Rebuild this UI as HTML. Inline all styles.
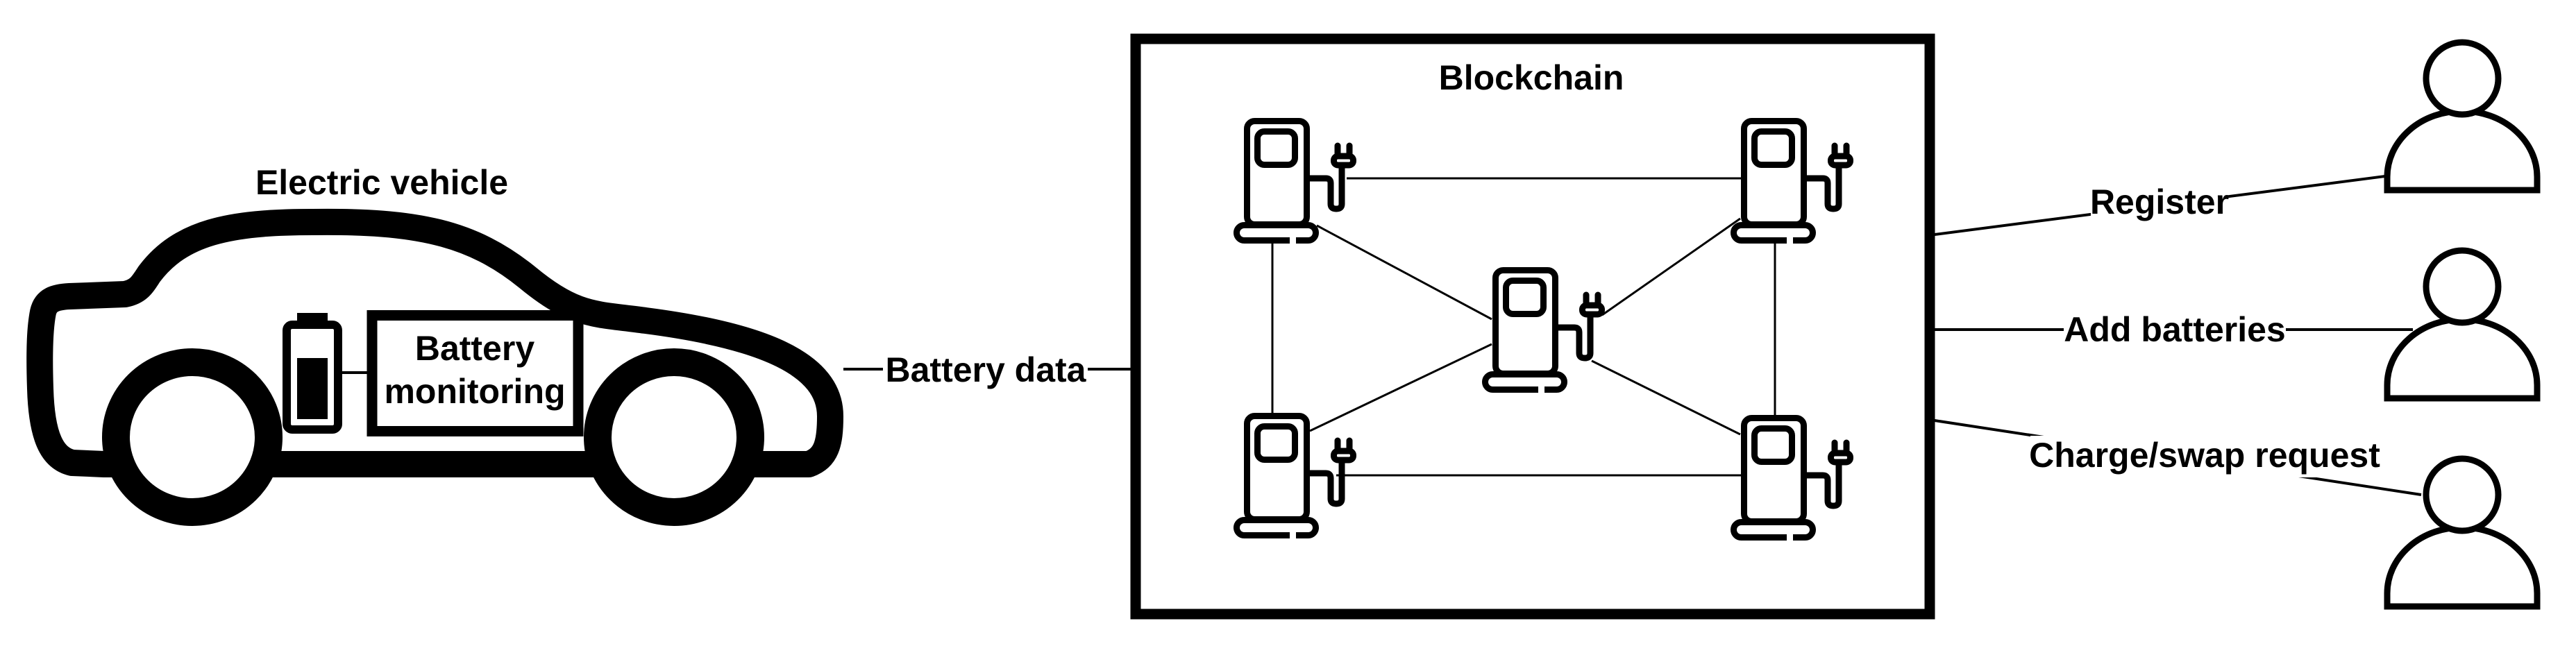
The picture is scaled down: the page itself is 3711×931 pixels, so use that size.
<!DOCTYPE html>
<html><head><meta charset="utf-8"><style>
html,body{margin:0;padding:0;background:#fff;}
svg{display:block;}
text{font-family:"Liberation Sans",sans-serif;font-weight:bold;font-size:50px;fill:#000;}
</style></head><body>
<svg width="3711" height="931" viewBox="0 0 3711 931" xmlns="http://www.w3.org/2000/svg">
<defs>
<g id="ch" fill="none" stroke="#000" stroke-width="9" stroke-linecap="round" stroke-linejoin="round">
  <rect x="4.5" y="4.5" width="86" height="149" rx="11" fill="#fff"/>
  <rect x="19.5" y="19.5" width="54" height="48" rx="10"/>
  <rect x="-10.5" y="154.5" width="114" height="22" rx="11" fill="#fff"/>
  <rect x="66" y="171" width="9" height="12" fill="#fff" stroke="none"/>
  <path d="M 95 87 H 118 Q 125 87 125 94 V 124 Q 125 131 133 131 Q 141 131 141 124 V 68"/>
  <rect x="129.5" y="55" width="28" height="13" rx="6"/>
  <path d="M 135 40 V 55 M 152 40 V 55"/>
</g>
<g id="person" fill="#fff" stroke="#000" stroke-width="9">
  <path d="M -108 161 V 142 A 108 95 0 0 1 108 142 V 161 Z"/>
  <circle cx="0" cy="0" r="52"/>
</g>
</defs>

<!-- car -->
<text x="550" y="280" text-anchor="middle">Electric vehicle</text>
<path d="M 150 669 L 104 667 C 75 660 60 630 58 560 C 56 500 58 470 62 450 C 66 432 80 428 100 427 L 180 424 C 200 420 205 410 215 395 C 260 335 330 320 450 320 C 600 318 680 335 760 400 C 830 458 860 452 930 462 C 1100 484 1196 525 1196 600 C 1196 640 1190 660 1165 669 Z" fill="none" stroke="#000" stroke-width="38" stroke-linejoin="round"/>
<ellipse cx="277" cy="630" rx="110" ry="108" fill="#fff" stroke="#000" stroke-width="40"/>
<ellipse cx="971" cy="630" rx="110" ry="108" fill="#fff" stroke="#000" stroke-width="40"/>
<rect x="413" y="468" width="74" height="151" rx="8" fill="#fff" stroke="#000" stroke-width="12"/>
<rect x="428" y="451" width="44" height="14" fill="#000"/>
<rect x="428" y="516" width="44" height="88" fill="#000"/>
<line x1="493" y1="537" x2="530" y2="537" stroke="#000" stroke-width="4"/>
<rect x="536" y="454.5" width="297" height="167" fill="#fff" stroke="#000" stroke-width="15"/>
<text x="684" y="519" text-anchor="middle">Battery</text>
<text x="684" y="581" text-anchor="middle">monitoring</text>

<!-- battery data -->
<line x1="1215" y1="532" x2="1635" y2="532" stroke="#000" stroke-width="4"/>
<rect x="1272" y="502" width="295" height="60" fill="#fff"/>
<text x="1420" y="550" text-anchor="middle">Battery data</text>

<!-- blockchain -->
<rect x="1636" y="56" width="1144" height="829" fill="#fff" stroke="#000" stroke-width="15"/>
<text x="2206" y="129" text-anchor="middle">Blockchain</text>
<g stroke="#000" stroke-width="3">
  <line x1="1940" y1="257" x2="2508" y2="257"/>
  <line x1="1925" y1="685" x2="2508" y2="685"/>
  <line x1="1833" y1="347" x2="1833" y2="597"/>
  <line x1="2557" y1="347" x2="2557" y2="600"/>
  <line x1="1897" y1="325" x2="2149" y2="460"/>
  <line x1="2293" y1="520" x2="2507" y2="626"/>
  <line x1="1887" y1="621" x2="2149" y2="496"/>
  <line x1="2507" y1="315" x2="2308" y2="454"/>
</g>
<use href="#ch" x="1792" y="170"/>
<use href="#ch" x="2508" y="170"/>
<use href="#ch" x="2150" y="385"/>
<use href="#ch" x="1792" y="595"/>
<use href="#ch" x="2508" y="598"/>

<!-- users -->
<g stroke="#000" stroke-width="4">
  <line x1="2787" y1="338" x2="3436" y2="254"/>
  <line x1="2787" y1="475" x2="3476" y2="475"/>
  <line x1="2787" y1="606" x2="3488" y2="713"/>
</g>
<use href="#person" x="3547" y="113"/>
<use href="#person" x="3547" y="413"/>
<use href="#person" x="3547" y="713"/>
<rect x="3012" y="266" width="198" height="52" fill="#fff"/>
<text x="3111" y="308" text-anchor="middle">Register</text>
<rect x="2973" y="450" width="320" height="52" fill="#fff"/>
<text x="3133" y="492" text-anchor="middle">Add batteries</text>
<rect x="2925" y="628" width="502" height="60" fill="#fff"/>
<text x="3176" y="673" text-anchor="middle">Charge/swap request</text>
</svg>
</body></html>
